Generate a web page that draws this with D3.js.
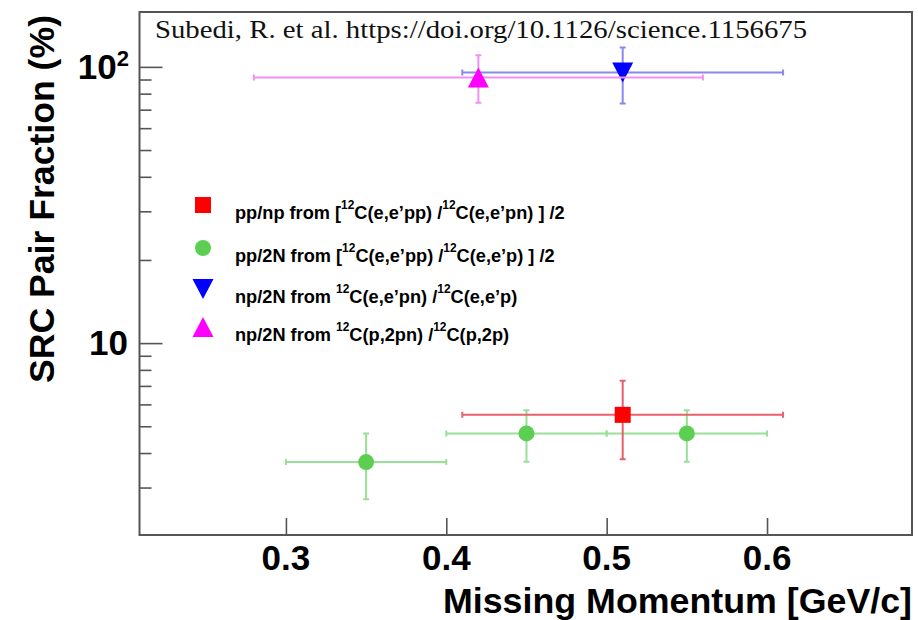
<!DOCTYPE html>
<html><head><meta charset="utf-8">
<script src="https://cdn.jsdelivr.net/npm/d3@7/dist/d3.min.js"></script>
<style>body{margin:0;background:#fff}svg{display:block}</style>
</head><body>
<svg id="chart" width="918" height="620"></svg>
<script>
// ---- data ----
const xTickValues = [0.3, 0.4, 0.5, 0.6];
const xTickLabels = ["0.3", "0.4", "0.5", "0.6"];
const yMajorTicks = [10, 100];
const yMinorTicks = [3, 4, 5, 6, 7, 8, 9, 20, 30, 40, 50, 60, 70, 80, 90];

// pp/np from [12C(e,e'pp)/12C(e,e'pn)]/2
const ppnpX = [0.51], ppnpY = [5.5];
const ppnpXLo = [0.41], ppnpXHi = [0.61];
const ppnpYLo = [3.8], ppnpYHi = [7.3];

// pp/2N from [12C(e,e'pp)/12C(e,e'p)]/2
const pp2nX = [0.35, 0.45, 0.55], pp2nY = [3.71, 4.71, 4.71];
const pp2nXLo = [0.30, 0.40, 0.50], pp2nXHi = [0.40, 0.50, 0.60];
const pp2nYLo = [2.72, 3.72, 3.72], pp2nYHi = [4.71, 5.72, 5.72];

// np/2N from 12C(e,e'pn)/12C(e,e'p)
const np2nEX = [0.51], np2nEY = [95.4];
const np2nEXLo = [0.41], np2nEXHi = [0.61];
const np2nEYLo = [73.7], np2nEYHi = [117.5];

// np/2N from 12C(p,2pn)/12C(p,2p)
const np2nPX = [0.42], np2nPY = [91.5];
const np2nPXLo = [0.28], np2nPXHi = [0.56];
const np2nPYLo = [74.1], np2nPYHi = [110.2];

const legendLabels = [
  [["pp/np from [", false], ["12", true], ["C(e,e\u2019pp) /", false], ["12", true], ["C(e,e\u2019pn) ] /2", false]],
  [["pp/2N from [", false], ["12", true], ["C(e,e\u2019pp) /", false], ["12", true], ["C(e,e\u2019p) ] /2", false]],
  [["np/2N from ", false], ["12", true], ["C(e,e\u2019pn) /", false], ["12", true], ["C(e,e\u2019p)", false]],
  [["np/2N from ", false], ["12", true], ["C(p,2pn) /", false], ["12", true], ["C(p,2p)", false]]
];

// ---- layout ----
const L = 139.5, R = 912, T = 12, B = 535;
const svg = d3.select("#chart");
const x = d3.scaleLinear().domain([0.2087, 0.6904]).range([L, R]);
const y = d3.scaleLog().domain([2.02, 158]).range([B, T]);

const sans = "'Liberation Sans', Arial, Helvetica, sans-serif";

// annotation
svg.append("text").attr("x", 155).attr("y", 38)
  .attr("font-family", "'Liberation Serif', 'Times New Roman', serif")
  .attr("font-size", 25).attr("fill", "#111")
  .attr("textLength", 652).attr("lengthAdjust", "spacingAndGlyphs")
  .text("Subedi, R. et al. https://doi.org/10.1126/science.1156675");

// axes ticks (inside the frame)
const axisStyle = g => {
  g.select(".domain").remove();
  g.selectAll(".tick line").attr("stroke", "#555").attr("stroke-width", 1.6);
  g.selectAll(".tick text").remove();
};
svg.append("g").attr("transform", `translate(0,${B})`)
  .call(d3.axisTop(x).tickValues(xTickValues).tickSize(17).tickFormat(""))
  .call(axisStyle);
svg.append("g").attr("transform", `translate(${L},0)`)
  .call(d3.axisRight(y).tickValues(yMajorTicks).tickSize(23).tickFormat(""))
  .call(axisStyle);
svg.append("g").attr("transform", `translate(${L},0)`)
  .call(d3.axisRight(y).tickValues(yMinorTicks).tickSize(12).tickFormat(""))
  .call(axisStyle);

// x tick labels
svg.append("g").selectAll("text").data(xTickValues).join("text")
  .attr("x", d => x(d)).attr("y", 570)
  .attr("text-anchor", "middle").attr("font-family", sans)
  .attr("font-weight", "bold").attr("font-size", 35).attr("fill", "#000")
  .text((d, i) => xTickLabels[i]);

// y tick labels
svg.append("text").attr("x", 128).attr("y", y(10) + 12)
  .attr("text-anchor", "end").attr("font-family", sans)
  .attr("font-weight", "bold").attr("font-size", 35).text("10");
const t100 = svg.append("text").attr("x", 129).attr("y", y(100) + 12)
  .attr("text-anchor", "end").attr("font-family", sans)
  .attr("font-weight", "bold").attr("font-size", 35);
t100.append("tspan").text("10");
t100.append("tspan").attr("font-size", 22).attr("dy", -13).text("2");

// axis titles
svg.append("text").attr("x", 912).attr("y", 613)
  .attr("text-anchor", "end").attr("font-family", sans)
  .attr("font-weight", "bold").attr("font-size", 35)
  .attr("textLength", 469).attr("lengthAdjust", "spacingAndGlyphs")
  .text("Missing Momentum [GeV/c]");
svg.append("text").attr("transform", "translate(54,199) rotate(-90)")
  .attr("text-anchor", "middle").attr("font-family", sans)
  .attr("font-weight", "bold").attr("font-size", 35)
  .attr("textLength", 368).attr("lengthAdjust", "spacingAndGlyphs")
  .text("SRC Pair Fraction (%)");

// error bars + markers
function zip(xs, ys, xl, xh, yl, yh) {
  return xs.map((v, i) => ({x: v, y: ys[i], xl: xl[i], xh: xh[i], yl: yl[i], yh: yh[i]}));
}
const series = [
  {data: zip(np2nEX, np2nEY, np2nEXLo, np2nEXHi, np2nEYLo, np2nEYHi), bar: "#8a8aea", fill: "#0000ff", shape: "down"},
  {data: zip(np2nPX, np2nPY, np2nPXLo, np2nPXHi, np2nPYLo, np2nPYHi), bar: "#f290f2", fill: "#ff00ff", shape: "up"},
  {data: zip(pp2nX, pp2nY, pp2nXLo, pp2nXHi, pp2nYLo, pp2nYHi), bar: "#98e098", fill: "#5ccf52", shape: "circle"},
  {data: zip(ppnpX, ppnpY, ppnpXLo, ppnpXHi, ppnpYLo, ppnpYHi), bar: "#e8606c", fill: "#ff0000", shape: "square"}
];

function marker(g, shape, cx, cy, fill) {
  if (shape === "circle") {
    g.append("circle").attr("cx", cx).attr("cy", cy).attr("r", 8).attr("fill", fill);
  } else if (shape === "square") {
    g.append("rect").attr("x", cx - 8).attr("y", cy - 8).attr("width", 16).attr("height", 16).attr("fill", fill);
  } else if (shape === "down") {
    g.append("path").attr("d", `M${cx - 10.5},${cy - 10}L${cx + 10.5},${cy - 10}L${cx},${cy + 10}Z`).attr("fill", fill);
  } else {
    g.append("path").attr("d", `M${cx - 10.5},${cy + 10}L${cx + 10.5},${cy + 10}L${cx},${cy - 10}Z`).attr("fill", fill);
  }
}

const plot = svg.append("g");
series.forEach(s => {
  const g = plot.append("g");
  s.data.forEach(d => {
    const cx = x(d.x), cy = y(d.y);
    const x0 = x(d.xl), x1 = x(d.xh), y0 = y(d.yl), y1 = y(d.yh);
    const c = 3;
    const p = `M${x0},${cy}H${x1}M${x0},${cy - c}V${cy + c}M${x1},${cy - c}V${cy + c}` +
              `M${cx},${y0}V${y1}M${cx - c},${y0}H${cx + c}M${cx - c},${y1}H${cx + c}`;
    g.append("path").attr("d", p).attr("fill", "none").attr("stroke", s.bar).attr("stroke-width", 2);
  });
  s.data.forEach(d => marker(g, s.shape, x(d.x), y(d.y), s.fill));
});

// legend
const legendShapes = ["square", "circle", "down", "up"];
const legendFills = ["#ff0000", "#5ccf52", "#0000ff", "#ff00ff"];
const legendY = [205, 248, 289, 327];
const lg = svg.append("g");
const texts = [];
legendLabels.forEach((parts, i) => {
  marker(lg, legendShapes[i], 203, legendY[i], legendFills[i]);
  const t = lg.append("text").attr("x", 235).attr("y", legendY[i] + 4)
    .attr("font-family", sans).attr("font-weight", "bold").attr("font-size", 16).attr("fill", "#000");
  parts.forEach(([str, sup]) => {
    if (sup) t.append("tspan").attr("class", "sup").attr("font-size", 10.5).attr("dy", -10).text(str);
    else t.append("tspan").attr("dy", t.selectAll("tspan").size() ? 10 : 0).text(str);
  });
  texts.push(t);
});
// fit legend font so the first row spans the same width as in the reference
const w0 = texts[0].node().getComputedTextLength();
const k = 330 / w0;
texts.forEach(t => {
  t.attr("font-size", 16 * k);
  t.selectAll("tspan.sup").attr("font-size", 10.5 * k);
});

// frame
svg.append("rect").attr("x", L).attr("y", T).attr("width", R - L).attr("height", B - T)
  .attr("fill", "none").attr("stroke", "#555").attr("stroke-width", 2);
</script>
</body></html>
